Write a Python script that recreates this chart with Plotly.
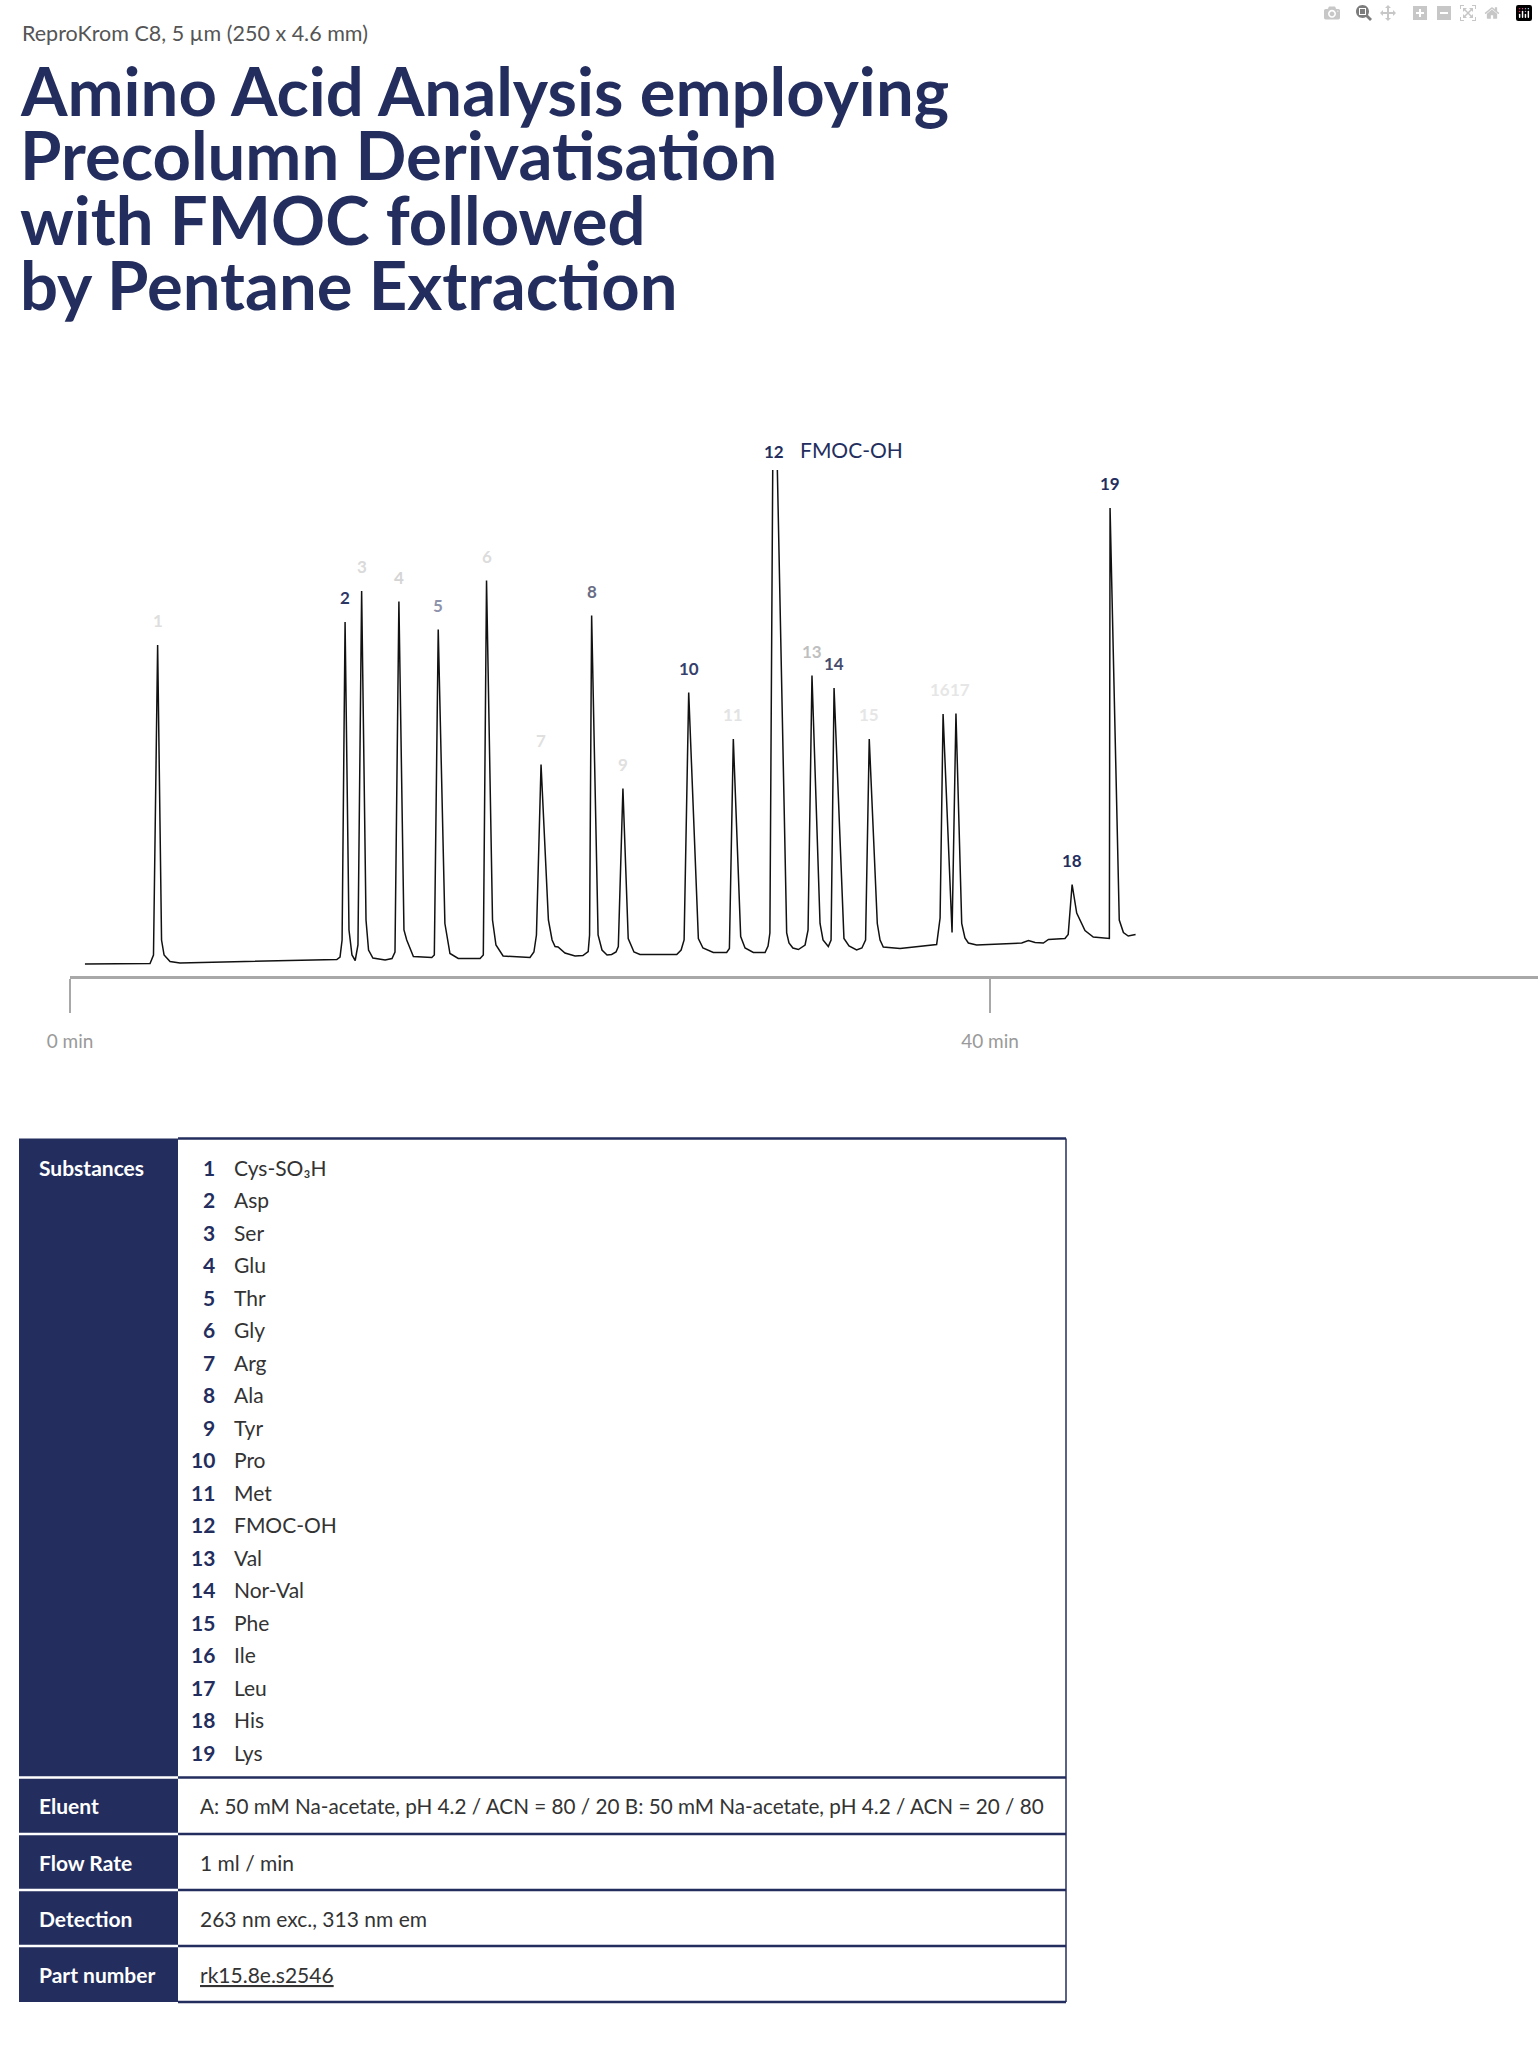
import plotly.graph_objects as go

W, H = 1538, 2068
NAVY = "#232e5e"
TEXT = "#333333"
FONT = "Lato"

## chromatogram (time in min, detector signal)
time_min = [0.65, 3.48, 3.63, 3.81, 3.98, 4.09, 4.35, 4.78,
            11.60, 11.74, 11.83, 11.96, 12.13, 12.26, 12.40,
            12.52, 12.68, 12.87, 12.98, 13.17, 13.70,
            14.00, 14.13, 14.30, 14.52, 14.64, 14.93, 15.73,
            15.84, 16.01, 16.30, 16.52, 16.88, 17.83,
            17.97, 18.11, 18.37, 18.52, 18.83, 20.00,
            20.17, 20.28, 20.48, 20.70, 20.80, 20.96, 21.09, 21.22, 21.52, 21.96, 22.30, 22.53,
            22.59, 22.68, 22.96, 23.13, 23.35, 23.55, 23.74, 23.84,
            24.04, 24.27, 24.52, 24.78, 26.38,
            26.57, 26.70, 26.90, 27.32, 27.52, 27.97, 28.55,
            28.67, 28.84, 29.16, 29.35, 29.71, 30.22,
            30.35, 30.43, 30.60, 31.16, 31.26, 31.43, 31.67, 31.96,
            32.09, 32.26, 32.61, 32.74, 32.97, 33.09,
            33.22, 33.65, 33.87, 34.20, 34.43, 34.59,
            34.75, 35.10, 35.22, 35.36, 36.09, 37.68,
            37.83, 37.96, 38.35, 38.52, 38.77, 38.91, 39.06, 39.42,
            41.38, 41.67, 41.96, 42.32, 42.54, 43.26, 43.40,
            43.57, 43.77, 44.13, 44.49, 45.19,
            45.22, 45.62, 45.80, 46.01, 46.33]
signal = [2.4, 2.5, 4.2, 66.2, 7.2, 4.2, 2.9, 2.6,
          3.3, 3.8, 7.2, 70.8, 9.2, 4.2, 3.1,
          6.2, 77.0, 11.2, 5.2, 3.6, 3.2,
          3.5, 4.8, 74.9, 9.2, 7.2, 3.9, 3.7,
          4.2, 69.3, 10.5, 4.5, 3.5, 3.5,
          4.2, 79.1, 11.2, 6.2, 4.0, 3.7,
          4.8, 8.2, 42.3, 19.2, 11.2, 7.2, 5.9, 5.8, 4.6, 4.0, 4.1, 4.9,
          8.2, 72.1, 8.2, 5.2, 4.2, 4.3, 4.8, 5.9,
          37.5, 7.5, 4.8, 4.3, 4.3,
          5.2, 7.2, 56.7, 7.5, 5.6, 4.7, 4.7,
          5.5, 47.4, 7.9, 5.6, 4.7, 4.7,
          6.0, 8.6, 136.4, 8.6, 6.6, 5.6, 5.3, 6.2,
          9.2, 60.1, 10.5, 7.2, 5.9, 7.2,
          57.6, 7.5, 6.0, 5.2, 5.6, 7.2,
          47.4, 10.5, 7.2, 5.8, 5.5, 6.3,
          11.6, 52.4, 8.7, 52.5, 10.5, 7.6, 6.6, 6.2,
          6.6, 7.1, 6.7, 6.6, 7.3, 7.5, 8.3,
          18.3, 12.6, 9.1, 7.8, 7.5,
          93.6, 11.2, 8.7, 8.0, 8.3]

# retention times of the numbered peaks
peak_no = list(range(1, 20))
peak_time = [3.81, 11.96, 12.68, 14.30, 16.01, 18.11, 20.48, 22.68, 24.04, 26.90,
             28.84, 30.60, 32.26, 33.22, 34.75, 37.96, 38.52, 43.57, 45.22]

substances = ["Cys-SO₃H", "Asp", "Ser", "Glu", "Thr", "Gly", "Arg", "Ala", "Tyr", "Pro",
              "Met", "FMOC-OH", "Val", "Nor-Val", "Phe", "Ile", "Leu", "His", "Lys"]

cond_names = ["Eluent", "Flow Rate", "Detection", "Part number"]
cond_values = ["A: 50 mM Na-acetate, pH 4.2 / ACN = 80 / 20 B: 50 mM Na-acetate, pH 4.2 / ACN = 20 / 80",
               "1 ml / min",
               "263 nm exc., 313 nm em",
               "<u>rk15.8e.s2546</u>"]

# label colours (labels are half faded in on the page)
label_colors = ["#dedede", "#2d3766", "#dadada", "#d4d4d4", "#8e93ab", "#dcdcdc", "#e0e0e0",
                "#686d85", "#e0e0e0", "#363f6c", "#e3e3e3", NAVY, "#bfbfbf", "#464c6c",
                "#e6e6e6", "#e6e6e6", "#e6e6e6", NAVY, NAVY]
label_anchor = {16: ("right", 9), 17: ("left", -8)}
label_yshift = {12: 6}

Y_TOP = 101.2  # peak 12 runs off the top of the plot


def xp(v):
    return v / W


def yp(v):
    return 1 - v / H


def text(x, y, s, size=21, color=TEXT, xanchor="left", yanchor="middle"):
    fig.add_annotation(x=xp(x), y=yp(y), xref="paper", yref="paper", text=s, showarrow=False,
                       xanchor=xanchor, yanchor=yanchor, font=dict(family=FONT, size=size, color=color))


fig = go.Figure()
fig.add_trace(go.Scatter(x=time_min, y=signal, mode="lines",
                         line=dict(color="#111111", width=1.5), hoverinfo="skip"))

# peak numbers
for i, n in enumerate(peak_no):
    j = min(range(len(time_min)), key=lambda k: abs(time_min[k] - peak_time[i]))
    xa, xs = label_anchor.get(n, ("center", 0))
    fig.add_annotation(x=peak_time[i], y=min(signal[j], Y_TOP), xref="x", yref="y",
                       text="<b>%d</b>" % n, showarrow=False, xanchor=xa, xshift=xs,
                       yanchor="bottom", yshift=label_yshift.get(n, 12),
                       font=dict(family=FONT, size=17, color=label_colors[i]))
fig.add_annotation(x=peak_time[11], y=Y_TOP, xref="x", yref="y", text="FMOC-OH", showarrow=False,
                   xanchor="left", xshift=24, yanchor="bottom", yshift=6,
                   font=dict(family=FONT, size=21, color=NAVY))

# heading
text(20, 33, "ReproKrom C8, 5 µm (250 x 4.6 mm)", size=21.5, color="#555555")
title_lines = ["Amino Acid Analysis employing", "Precolumn Derivatisation",
               "with FMOC followed", "by Pentane Extraction"]
for k, line in enumerate(title_lines):
    text(18, 90 + k * 64.5, "<b>%s</b>" % line, size=67, color=NAVY)

# table
T_TOP, T_BOT, T_L, T_M, T_R = 1138.5, 2002, 19, 178, 1066
row_lines = [1777.5, 1834, 1890, 1946]
fig.add_shape(type="rect", xref="paper", yref="paper", x0=xp(T_L), x1=xp(T_M), y0=yp(T_BOT), y1=yp(T_TOP),
              fillcolor=NAVY, line_width=0, layer="below")
for yy in [T_TOP] + row_lines + [T_BOT]:
    fig.add_shape(type="line", xref="paper", yref="paper", x0=xp(T_M), x1=xp(T_R), y0=yp(yy), y1=yp(yy),
                  line=dict(color=NAVY, width=2.5))
for yy in row_lines:
    fig.add_shape(type="line", xref="paper", yref="paper", x0=xp(T_L), x1=xp(T_M), y0=yp(yy), y1=yp(yy),
                  line=dict(color="white", width=2.5))
fig.add_shape(type="line", xref="paper", yref="paper", x0=xp(T_R), x1=xp(T_R), y0=yp(T_BOT), y1=yp(T_TOP),
              line=dict(color=NAVY, width=1.5))

text(37, 1167, "<b>Substances</b>", color="white")
for i, name in enumerate(substances):
    yy = 1167 + i * 32.5
    text(217, yy, "<b>%d</b>" % peak_no[i], color=NAVY, xanchor="right")
    text(232, yy, name)
row_mid = [1805.5, 1862, 1918, 1974]
for name, val, yy in zip(cond_names, cond_values, row_mid):
    text(37, yy, "<b>%s</b>" % name, color="white")
    text(198, yy, val, size=20.7 if name == "Eluent" else 21)

fig.update_layout(
    width=W, height=H, margin=dict(l=0, r=0, t=0, b=0, autoexpand=False),
    paper_bgcolor="white", plot_bgcolor="white", showlegend=False,
    font=dict(family=FONT),
    xaxis=dict(domain=[xp(70), 1], range=[0, (W - 70) / 23], showgrid=False, zeroline=False,
               automargin=False, showline=True, linecolor="#a8a8a8", linewidth=3,
               ticks="outside", ticklen=34, tickwidth=2, tickcolor="#a8a8a8",
               tickvals=[0, 40], ticktext=["0 min", "40 min"], ticklabelstandoff=12,
               tickfont=dict(family=FONT, size=19, color="#9a9a9a")),
    yaxis=dict(domain=[yp(976), yp(470)], range=[0, Y_TOP], visible=False, automargin=False),
)

fig.write_html("out.html", post_script="document.body.style.margin='0';document.body.style.overflow='hidden';")
